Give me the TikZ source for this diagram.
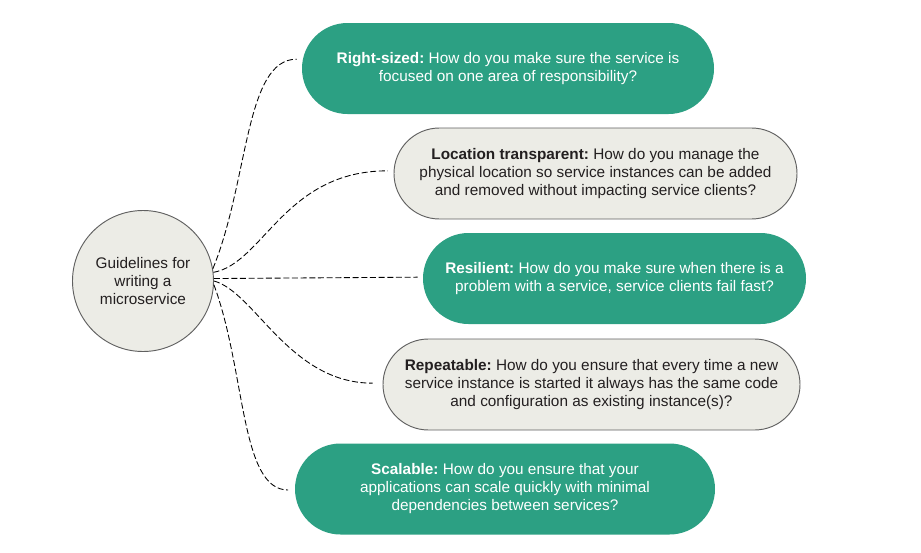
\documentclass[tikz,border=0pt]{standalone}
\usepackage{fontspec}
\setmainfont{Liberation Sans}
\usetikzlibrary{shapes.misc}
\definecolor{qgreen}{RGB}{44,160,131}
\definecolor{qgray}{RGB}{236,236,230}
\definecolor{qedge}{RGB}{96,96,96}
\definecolor{qtext}{RGB}{35,31,32}
\frenchspacing
\tikzset{question/.style={rounded rectangle,minimum height=68.25pt,inner sep=0pt,align=center,
                          font=\fontsize{11.5}{13.5}\selectfont},
         greenq/.style={question,fill=qgreen,text=white},
         grayq/.style={question,draw=qedge,fill=qgray,text=qtext,line width=0.7pt},
         hub/.style={circle,draw=qedge,fill=qgray,text=qtext,line width=0.7pt,minimum size=105.75pt,
                     inner sep=0pt,align=center,font=\fontsize{11.5}{13.5}\selectfont},
         link/.style={dash pattern=on 4.5pt off 2pt,line width=0.65pt},
        }

\begin{document}
\begin{tikzpicture}[x=0.75pt,y=-0.75pt]
        \useasboundingbox(0,0)rectangle(921,553);
        \node[hub](g)at(143,281){Guidelines for\\writing a\\microservice};

        \node[greenq,minimum width=309pt](q1)at(508,68.5){\textbf{Right-sized:} How do you make sure the service is\\focused on one area of responsibility?};
        \node[grayq,minimum width=302.25pt](q2)at(595.5,173.5){\textbf{Location transparent:} How do you manage the\\physical location so service instances can be added\\and removed without impacting service clients?};
        \node[greenq,minimum width=287.25pt](q3)at(614.5,278.5){\textbf{Resilient:} How do you make sure when there is a\\problem with a service, service clients fail fast?};
        \node[grayq,minimum width=312.75pt](q4)at(591.5,384.5){\textbf{Repeatable:} How do you ensure that every time a new\\service instance is started it always has the same code\\and configuration as existing instance(s)?};
        \node[greenq,minimum width=315pt](q5)at(505,489){\textbf{Scalable:} How do you ensure that your\\applications can scale quickly with minimal\\dependencies between services?};

        \draw[link](g.10)..controls+(36,-88)and+(-52,0)..([xshift=-3.75pt,yshift=7pt]q1.west);
        \draw[link](g.7)..controls+(50,-9)and+(-103,0)..([xshift=-4.5pt,yshift=2pt]q2.west);
        \draw[link](g.2)--([xshift=-3.75pt,yshift=1pt]q3.west);
        \draw[link](g.0)..controls+(41,11)and+(-83,0)..([xshift=-7.5pt,yshift=1pt]q4.west);
        \draw[link](g.-3)..controls+(32,86)and+(-48,0)..([xshift=-5pt,yshift=-0.75pt]q5.west);
    \end{tikzpicture}
\end{document}
